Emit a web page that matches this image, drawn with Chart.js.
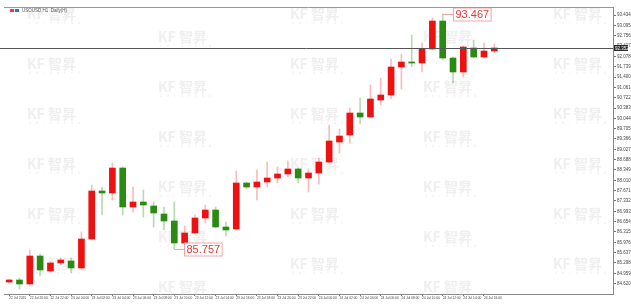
<!DOCTYPE html>
<html>
<head>
<meta charset="utf-8">
<script src="https://cdn.jsdelivr.net/npm/chart.js"></script>
<style>
  html, body { margin: 0; padding: 0; background: #fff; }
</style>
</head>
<body>
<canvas id="priceChart" width="631" height="304"></canvas>
<script>
// H1 candles
const categories = [
  '22 Jul 18:00', '22 Jul 19:00', '22 Jul 20:00', '22 Jul 21:00', '22 Jul 22:00', '22 Jul 23:00',
  '23 Jul 00:00', '23 Jul 01:00', '23 Jul 02:00', '23 Jul 03:00', '23 Jul 04:00', '23 Jul 05:00',
  '23 Jul 06:00', '23 Jul 07:00', '23 Jul 08:00', '23 Jul 09:00', '23 Jul 10:00', '23 Jul 11:00',
  '23 Jul 12:00', '23 Jul 13:00', '23 Jul 14:00', '23 Jul 15:00', '23 Jul 16:00', '23 Jul 17:00',
  '23 Jul 18:00', '23 Jul 19:00', '23 Jul 20:00', '23 Jul 21:00', '23 Jul 22:00', '23 Jul 23:00',
  '24 Jul 00:00', '24 Jul 01:00', '24 Jul 02:00', '24 Jul 03:00', '24 Jul 04:00', '24 Jul 05:00',
  '24 Jul 06:00', '24 Jul 07:00', '24 Jul 08:00', '24 Jul 09:00', '24 Jul 10:00', '24 Jul 11:00',
  '24 Jul 12:00', '24 Jul 13:00', '24 Jul 14:00', '24 Jul 15:00', '24 Jul 16:00', '24 Jul 17:00'
];
const openPrices = [
  84.674, 84.740, 84.609, 85.527, 85.035, 85.298, 85.363, 85.134, 86.085, 87.660, 87.594, 88.414,
  87.135, 87.299, 87.168, 86.905, 86.676, 85.954, 86.282, 86.774, 87.036, 86.479, 86.413, 87.922,
  87.791, 87.955, 88.086, 88.218, 88.382, 88.086, 88.250, 88.611, 89.267, 89.497, 90.219, 90.088,
  90.645, 90.809, 91.728, 91.892, 91.859, 92.319, 93.237, 92.023, 91.564, 92.352, 92.056, 92.253
];
const highPrices = [
  84.773, 84.805, 85.724, 85.593, 85.330, 85.462, 85.462, 86.315, 87.857, 87.791, 88.578, 88.447,
  87.791, 87.693, 87.299, 87.135, 87.299, 86.511, 86.872, 87.200, 87.135, 86.643, 88.316, 87.955,
  88.349, 88.611, 88.447, 88.644, 88.414, 88.382, 88.743, 89.825, 89.694, 90.383, 90.711, 91.138,
  91.367, 91.991, 92.155, 92.778, 92.516, 93.336, 93.467, 92.056, 92.417, 92.614, 92.516, 92.483
];
const lowPrices = [
  84.641, 84.445, 84.543, 84.871, 85.002, 85.232, 84.969, 85.068, 86.052, 86.872, 87.365, 86.872,
  86.971, 86.807, 86.479, 86.380, 85.757, 85.921, 86.249, 86.610, 86.446, 86.183, 86.380, 87.725,
  87.365, 87.791, 87.922, 88.119, 87.922, 87.627, 87.889, 88.578, 88.907, 89.235, 89.858, 90.055,
  90.481, 90.678, 91.006, 91.728, 91.564, 92.286, 91.958, 91.203, 91.400, 92.023, 92.023, 92.187
];
const closePrices = [
  84.740, 84.609, 85.527, 85.068, 85.298, 85.396, 85.134, 86.085, 87.660, 87.594, 88.414, 87.135,
  87.299, 87.200, 86.938, 86.676, 85.954, 86.282, 86.774, 87.036, 86.479, 86.380, 87.922, 87.791,
  87.955, 88.086, 88.218, 88.382, 88.086, 88.250, 88.611, 89.300, 89.464, 90.219, 90.088, 90.678,
  90.809, 91.728, 91.892, 91.859, 92.319, 93.237, 92.023, 91.564, 92.384, 92.056, 92.253, 92.352
];
const yTicks = [
  84.620, 84.959, 85.298, 85.637, 85.976, 86.315, 86.654, 86.993, 87.332, 87.671, 88.010, 88.349,
  88.688, 89.027, 89.366, 89.705, 90.044, 90.383, 90.722, 91.061, 91.400, 91.739, 92.078, 92.417,
  92.756, 93.095, 93.434
];
const firstDateLabel = '22 Jul 2025';
const symbolTitle = 'USOUSD,H1  Daily(H)';
const highMarkIdx = 42;
const lowMarkIdx = 16;
const emptySlots = 11;

const UP = '#ee1111';
const DOWN = '#2a8a14';
const UP_WICK = 'rgba(238, 60, 60, 0.35)';
const DOWN_WICK = 'rgba(50, 150, 30, 0.35)';

const allLabels = categories.concat(new Array(emptySlots).fill(''));
const isUp = openPrices.map((o, i) => closePrices[i] >= o);
const bodies = openPrices.map((o, i) => [Math.min(o, closePrices[i]), Math.max(o, closePrices[i])]);
const wicks = lowPrices.map((l, i) => [l, highPrices[i]]);
const lastClose = closePrices[closePrices.length - 1];

function showLabel(i) {
    return i % 2 === 0 && i < categories.length;
}

const decorPlugin = {
    id: 'decor',
    beforeDatasetsDraw(chart) {
        const ctx = chart.ctx;
        ctx.save();
        // watermark grid
        const cols = [27, 158, 290, 423, 553];
        cols.forEach((cx, c) => {
            const start = c % 2 === 0 ? 10 : 33;
            for (let ry = start; ry < 300; ry += 50) {
                ctx.fillStyle = '#efefef';
                ctx.font = 'bold 14px "Noto Sans CJK SC"';
                ctx.textBaseline = 'top';
                ctx.textAlign = 'left';
                ctx.fillText('KF', cx, ry - 3);
                ctx.fillText('智昇', cx + 21, ry - 3);
                ctx.font = '3px "DejaVu Sans"';
                ctx.fillStyle = '#e8e8e8';
                'ZHISHENG'.split('').forEach((ch, k) => ctx.fillText(ch, cx + 2 + k * 7, ry + 12));
            }
        });
        ctx.restore();
    },
    afterDatasetsDraw(chart) {
        const ctx = chart.ctx;
        const area = chart.chartArea;
        const xs = chart.scales.x;
        const ys = chart.scales.y;
        ctx.save();
        // current price line
        const py = Math.round(ys.getPixelForValue(lastClose)) + 0.5;
        ctx.strokeStyle = '#555';
        ctx.lineWidth = 1;
        ctx.beginPath();
        ctx.moveTo(0, py);
        ctx.lineTo(area.right, py);
        ctx.stroke();

        // high / low markers
        const marks = [
            { idx: highMarkIdx, value: highPrices[highMarkIdx] },
            { idx: lowMarkIdx, value: lowPrices[lowMarkIdx] }
        ];
        ctx.font = '11px "Liberation Sans"';
        marks.forEach(m => {
            const x = xs.getPixelForValue(m.idx);
            const y = Math.round(ys.getPixelForValue(m.value)) + 0.5;
            const text = m.value.toFixed(3);
            const w = ctx.measureText(text).width + 4;
            const bx = Math.round(x + 10) + 0.5;
            ctx.strokeStyle = '#f3a5a5';
            ctx.beginPath();
            ctx.moveTo(x, y);
            ctx.lineTo(bx, y);
            ctx.stroke();
            ctx.fillStyle = '#fff';
            ctx.fillRect(bx, y - 6.5, w, 13);
            ctx.strokeRect(bx, y - 6.5, w, 13);
            ctx.fillStyle = '#e53935';
            ctx.textBaseline = 'middle';
            ctx.textAlign = 'left';
            ctx.fillText(text, bx + 2, y + 0.5);
        });
        ctx.restore();
    },
    afterDraw(chart) {
        const ctx = chart.ctx;
        const area = chart.chartArea;
        const ys = chart.scales.y;
        ctx.save();
        // top frame line
        ctx.strokeStyle = '#999';
        ctx.lineWidth = 1;
        ctx.beginPath();
        ctx.moveTo(area.left, area.top + 0.5);
        ctx.lineTo(area.right, area.top + 0.5);
        ctx.stroke();

        // header
        ctx.fillStyle = '#e04040';
        ctx.fillRect(10, 9, 4, 3);
        ctx.fillStyle = '#3a6fd0';
        ctx.fillRect(15, 9, 4, 3);
        ctx.fillStyle = '#555';
        ctx.font = '4.5px "Liberation Sans"';
        ctx.textBaseline = 'middle';
        ctx.textAlign = 'left';
        ctx.fillText(symbolTitle, 22, 10.5);

        // current price tag on the axis
        const py = ys.getPixelForValue(lastClose);
        ctx.fillStyle = '#2b2b2b';
        ctx.fillRect(area.right + 1, py - 3, 14, 6);
        ctx.fillStyle = '#fff';
        ctx.font = '4.5px "Liberation Sans"';
        ctx.fillText(lastClose.toFixed(3), area.right + 2, py + 0.3);
        ctx.restore();
    }
};

const chart = new Chart(document.getElementById('priceChart').getContext('2d'), {
    type: 'bar',
    data: {
        labels: allLabels,
        datasets: [{
            label: 'body',
            data: bodies,
            backgroundColor: isUp.map(u => u ? UP : DOWN),
            borderWidth: 0,
            barThickness: 6,
            minBarLength: 1,
            grouped: false
        }, {
            label: 'wick',
            data: wicks,
            backgroundColor: isUp.map(u => u ? UP_WICK : DOWN_WICK),
            borderWidth: 0,
            barThickness: 1,
            grouped: false
        }]
    },
    options: {
        responsive: false,
        animation: false,
        devicePixelRatio: 1,
        layout: { padding: { left: 4, top: 7, right: 0, bottom: 0 } },
        plugins: {
            legend: { display: false },
            tooltip: { enabled: false }
        },
        scales: {
            x: {
                type: 'category',
                offset: true,
                afterFit: s => { s.height = 10; },
                grid: {
                    display: true,
                    drawOnChartArea: false,
                    offset: false,
                    tickLength: 2,
                    color: c => showLabel(c.index) ? '#777' : 'rgba(0,0,0,0)'
                },
                border: { color: '#888' },
                ticks: {
                    autoSkip: false,
                    maxRotation: 0,
                    minRotation: 0,
                    align: 'start',
                    padding: 0,
                    color: '#444',
                    font: { size: 3.3, family: 'Liberation Sans' },
                    callback: (v, i) => i === 0 ? firstDateLabel : (showLabel(i) ? allLabels[i] : '')
                }
            },
            y: {
                position: 'right',
                min: 84.280,
                max: 93.697,
                afterBuildTicks: s => { s.ticks = yTicks.map(v => ({ value: v })); },
                afterFit: s => { s.width = 18; },
                grid: { display: true, drawOnChartArea: false, tickLength: 3, color: '#777' },
                border: { color: '#888' },
                ticks: {
                    autoSkip: false,
                    padding: 1,
                    color: '#444',
                    font: { size: 4.5, family: 'Liberation Sans' },
                    callback: v => Number(v).toFixed(3)
                }
            }
        }
    },
    plugins: [decorPlugin]
});
</script>
</body>
</html>
